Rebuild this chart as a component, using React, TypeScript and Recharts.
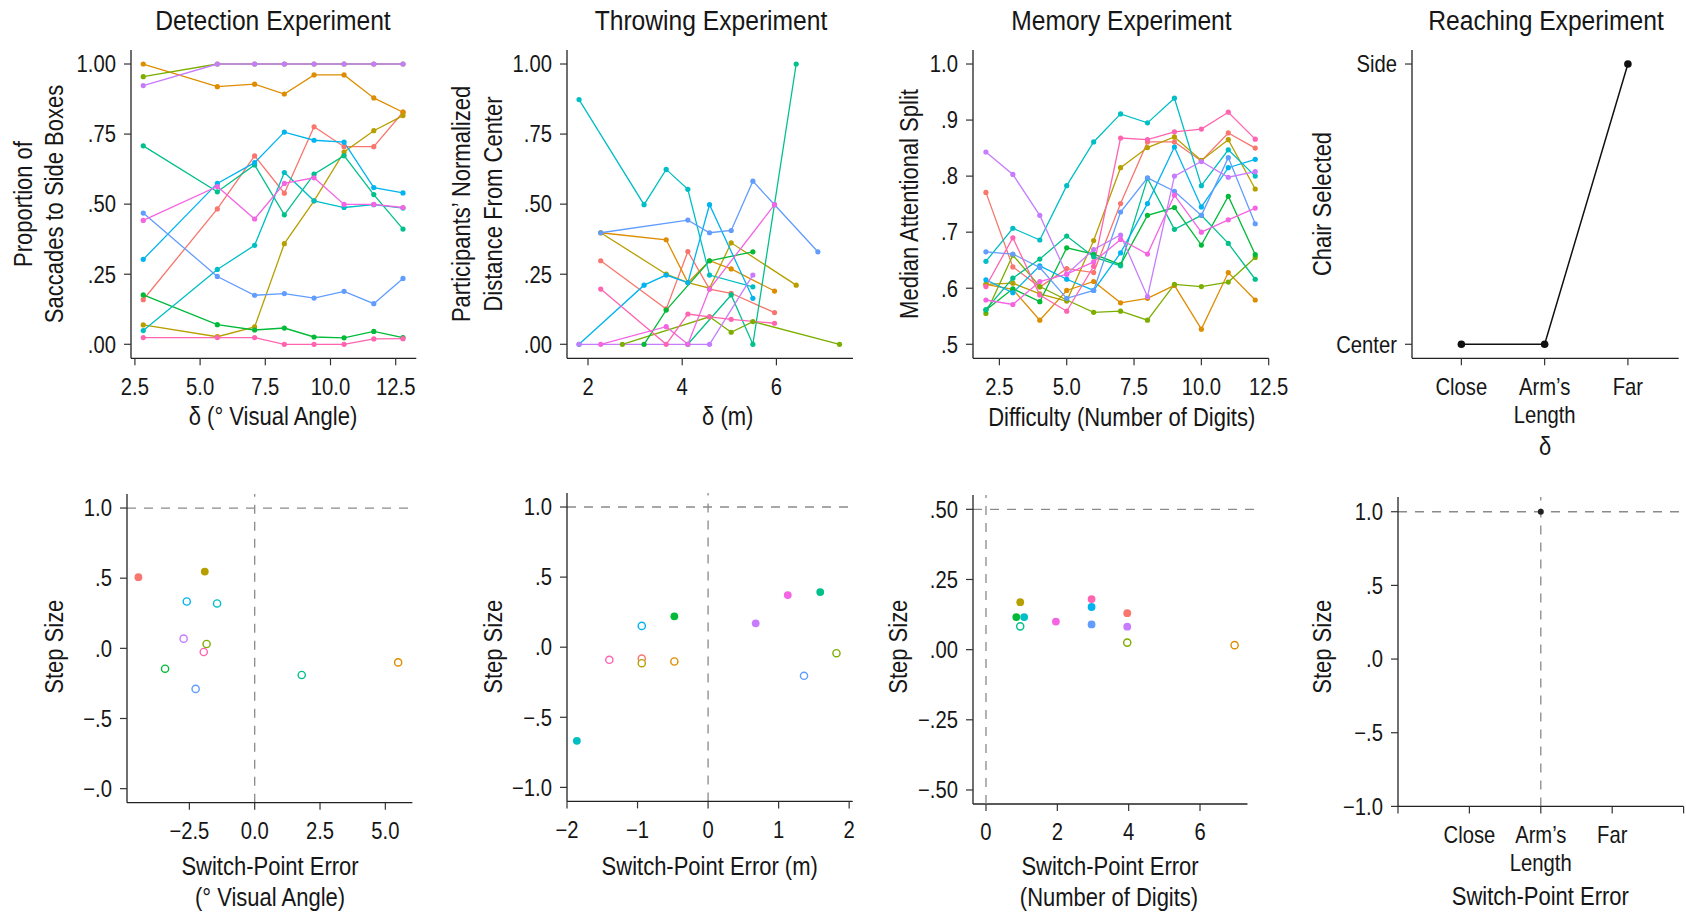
import React from 'react';
import { LineChart, Line, ScatterChart, Scatter, XAxis, YAxis, ReferenceLine } from 'recharts';

// Helvetica-like face squeezed horizontally to stand in for the condensed original
const FONT = "'Liberation Sans', Arial, sans-serif";
const SX = 0.88;
const INK = '#161616';
const DASH = '#8a8a8a';
// ggplot hue palette, one colour per participant
const PALETTE = ['#F8766D', '#DE8C00', '#B79F00', '#7CAE00', '#00BA38', '#00C08B', '#00BFC4', '#00B4F0', '#619CFF', '#C77CFF', '#F564E3', '#FF64B0'];

// ---- Detection experiment (top left) ----
const detectionAngles = [2.82, 5.66, 7.09, 8.23, 9.37, 10.52, 11.66, 12.78];
const detectionBySubject = [
  [0.159, 0.483, 0.672, 0.539, 0.776, 0.705, 0.705, 0.828],
  [1.0, 0.919, 0.928, 0.893, 0.961, 0.961, 0.879, 0.828],
  [0.069, 0.027, 0.062, 0.359, 0.512, 0.686, 0.762, 0.816],
  [0.955, 1, 1, 1, 1, 1, 1, 1],
  [0.176, 0.07, 0.051, 0.058, 0.026, 0.023, 0.046, 0.024],
  [0.708, 0.544, 0.64, 0.462, 0.607, 0.673, 0.534, 0.411],
  [0.049, 0.267, 0.353, 0.613, 0.512, 0.488, 0.498, 0.486],
  [0.303, 0.574, 0.648, 0.757, 0.728, 0.721, 0.559, 0.54],
  [0.468, 0.242, 0.175, 0.181, 0.165, 0.189, 0.145, 0.235],
  [0.923, 1, 1, 1, 1, 1, 1, 1],
  [0.442, 0.563, 0.447, 0.574, 0.594, 0.499, 0.499, 0.488],
  [0.024, 0.024, 0.024, 0, 0, 0, 0.019, 0.02],
];

// ---- Throwing experiment ----
const throwingDistances = [1.81, 2.27, 2.73, 3.19, 3.66, 4.12, 4.58, 5.04, 5.5, 5.96, 6.42, 6.88, 7.34];
const throwingBySubject: (number | null)[][] = [
  [null, 0.298, null, null, 0.126, 0.331, 0.197, 0.182, null, 0.113, null, null, null],
  [null, 0.398, null, null, 0.373, 0.22, 0.298, 0.269, null, 0.19, null, null, null],
  [null, 0.398, null, null, 0.25, 0.22, 0.2, 0.362, null, null, 0.211, null, null],
  [null, null, 0, null, null, null, 0.098, 0.043, 0.081, null, null, null, 0],
  [null, null, null, 0, 0.122, null, 0.298, null, 0.33, null, null, null, null],
  [null, null, null, null, null, 0, null, 0.176, 0, null, 1.0, null, null],
  [0.873, null, null, 0.498, 0.624, 0.553, 0.247, null, 0.205, null, null, null, null],
  [0, null, null, 0.211, 0.247, 0.22, 0.498, null, 0.164, null, null, null, null],
  [null, 0.398, null, null, null, 0.443, 0.398, 0.406, 0.582, 0.498, null, 0.33, null],
  [0, null, null, null, null, null, 0, null, 0.247, null, null, null, null],
  [null, 0, null, null, 0.063, 0, 0.197, null, null, 0.498, null, null, null],
  [null, 0.197, null, null, 0, 0.108, 0.098, 0.089, null, 0.075, null, null, null],
];

// ---- Memory experiment ----
const memoryDigits = [2, 3, 4, 5, 6, 7, 8, 9, 10, 11, 12];
const memoryBySubject = [
  [0.771, 0.638, 0.602, 0.635, 0.628, 0.751, 0.861, 0.861, 0.827, 0.877, 0.85],
  [0.607, 0.598, 0.543, 0.596, 0.612, 0.574, 0.582, 0.605, 0.527, 0.628, 0.579],
  [0.607, 0.609, 0.59, 0.577, 0.685, 0.815, 0.851, 0.87, 0.828, 0.865, 0.777],
  [0.555, 0.659, 0.603, 0.579, 0.557, 0.559, 0.543, 0.607, 0.603, 0.611, 0.655],
  [0.561, 0.599, 0.576, 0.672, 0.661, 0.642, 0.73, 0.744, 0.677, 0.764, 0.66],
  [0.562, 0.618, 0.652, 0.693, 0.656, 0.64, 0.796, 0.705, 0.73, 0.68, 0.616],
  [0.648, 0.707, 0.686, 0.783, 0.861, 0.911, 0.895, 0.939, 0.783, 0.847, 0.8],
  [0.615, 0.592, 0.64, 0.616, 0.596, 0.663, 0.751, 0.852, 0.745, 0.815, 0.83],
  [0.665, 0.661, 0.637, 0.582, 0.596, 0.736, 0.797, 0.773, 0.73, 0.833, 0.715],
  [0.843, 0.803, 0.73, 0.625, 0.669, 0.695, 0.585, 0.8, 0.826, 0.798, 0.808],
  [0.579, 0.571, 0.612, 0.625, 0.647, 0.687, 0.661, 0.766, 0.7, 0.722, 0.743],
  [0.603, 0.69, 0.588, 0.559, 0.639, 0.868, 0.865, 0.879, 0.884, 0.914, 0.866],
];

// ---- Reaching experiment ----
const reachingDistance = [1, 2, 3];
const reachingChoice = [0, 0, 1];
const reachingCategories = ['Close', 'Arm\u2019s\nLength', 'Far'];

// ---- Step size vs switch-point error ----
const detectionError = [-4.45, -1.91, -2.6, -1.44, -2.72, -1.84, -1.95, -3.43, -2.26, 1.8, 5.49];
const detectionStep = [0.507, 0.547, 0.334, 0.32, 0.069, 0.031, -0.026, -0.145, -0.289, -0.19, -0.1];
const detectionSubject = [0, 2, 7, 6, 9, 3, 11, 4, 8, 5, 1];
const detectionSignificant = [true, true, false, false, false, false, false, false, false, false, false];

const throwingError = [-1.86, -1.4, -0.94, -0.94, -0.94, -0.478, -0.478, 0.675, 1.13, 1.59, 1.36, 1.82];
const throwingStep = [-0.668, -0.09, -0.081, -0.114, 0.152, -0.102, 0.22, 0.17, 0.372, 0.393, -0.204, -0.043];
const throwingSubject = [6, 11, 0, 2, 7, 1, 4, 9, 10, 5, 8, 3];
const throwingSignificant = [true, false, false, false, false, false, true, true, true, true, false, false];

const memoryError = [0.96, 0.85, 1.07, 0.96, 1.96, 2.96, 2.96, 2.96, 3.96, 3.96, 3.96, 6.97];
const memoryStep = [0.169, 0.116, 0.116, 0.083, 0.1, 0.18, 0.152, 0.09, 0.13, 0.082, 0.025, 0.016];
const memorySubject = [2, 4, 6, 5, 10, 11, 7, 8, 0, 9, 3, 1];
const memorySignificant = [true, true, true, false, true, true, true, true, true, true, false, false];

const reachingError = [2];
const reachingStep = [1];
const reachingErrorCategories = ['', 'Close', 'Arm\u2019s\nLength', 'Far', ''];

type Box = { x0: number; x1: number; y0: number; y1: number };
const YW = 100;
const XH = 74;
const MT = 6;
const MR = 24;
const TICK_FS = 23;
const LABEL_FS = 25;

const axisLine = { stroke: '#222', strokeWidth: 1.3 };
const tickLine = { stroke: '#333', strokeWidth: 1.2 };

function frame(b: Box): React.CSSProperties {
  return { position: 'absolute', left: b.x0 - YW, top: b.y0 - MT };
}
function size(b: Box) {
  return { width: b.x1 - b.x0 + YW + MR, height: b.y1 - b.y0 + MT + XH };
}
const labelOf = (ticks: number[], labels: string[]) => (v: number) => labels[ticks.indexOf(v)] ?? '';

function XTick(props: any) {
  const { x, y, payload, ticks, labels } = props;
  const text: string = labels[ticks.indexOf(payload.value)] ?? '';
  return (
    <text transform={`translate(${x},${y}) scale(${SX},1)`} textAnchor="middle" fill={INK} fontSize={TICK_FS} fontFamily={FONT}>
      {text.split('\n').map((l, i) => (
        <tspan key={i} x={0} dy={i === 0 ? '0.71em' : '1.23em'}>{l}</tspan>
      ))}
    </text>
  );
}

function YTick(props: any) {
  const { x, y, payload, ticks, labels } = props;
  const text: string = labels[ticks.indexOf(payload.value)] ?? '';
  return (
    <text transform={`translate(${x},${y}) scale(${SX},1)`} textAnchor="end" dy="0.36em" fill={INK} fontSize={TICK_FS} fontFamily={FONT}>
      {text}
    </text>
  );
}

interface AxisSpec {
  domain: [number, number];
  ticks: number[];
  labels: string[];
}

function xAxisEl(a: AxisSpec, showLine = true) {
  return (
    <XAxis
      type="number"
      dataKey="x"
      domain={a.domain}
      ticks={a.ticks}
      allowDataOverflow
      interval={0}
      height={XH}
      axisLine={showLine ? axisLine : false}
      tickLine={tickLine}
      tickSize={7}
      tickMargin={13}
      tick={(p: any) => <XTick {...p} ticks={a.ticks} labels={a.labels} />}
      tickFormatter={labelOf(a.ticks, a.labels)}
    />
  );
}
function yAxisEl(a: AxisSpec) {
  return (
    <YAxis
      type="number"
      dataKey="y"
      domain={a.domain}
      ticks={a.ticks}
      allowDataOverflow
      interval={0}
      width={YW}
      axisLine={axisLine}
      tickLine={tickLine}
      tickSize={7}
      tickMargin={8}
      tick={(p: any) => <YTick {...p} ticks={a.ticks} labels={a.labels} />}
      tickFormatter={labelOf(a.ticks, a.labels)}
    />
  );
}

function LinePanel(props: { box: Box; xa: AxisSpec; ya: AxisSpec; xs: number[]; rows: (number | null)[][]; black?: boolean }) {
  const { box, xa, ya, xs, rows } = props;
  return (
    <div style={frame(box)}>
      <LineChart {...size(box)} margin={{ top: MT, right: MR, left: 0, bottom: 0 }}>
        {xAxisEl(xa)}
        {yAxisEl(ya)}
        {rows.map((row, i) => {
          const c = props.black ? '#111' : PALETTE[i];
          const data = xs.map((x, j) => ({ x, y: row[j] })).filter((d) => d.y !== null);
          return (
            <Line
              key={i}
              data={data}
              dataKey="y"
              stroke={c}
              strokeWidth={props.black ? 1.5 : 1.3}
              dot={{ r: props.black ? 3.8 : 2.6, fill: c, stroke: 'none' }}
              activeDot={false}
              isAnimationActive={false}
            />
          );
        })}
      </LineChart>
    </div>
  );
}

function ScatterDot(props: any) {
  const { cx, cy, payload } = props;
  if (payload.filled) return <circle cx={cx} cy={cy} r={payload.r} fill={payload.color} />;
  return <circle cx={cx} cy={cy} r={3.6} fill="#fff" stroke={payload.color} strokeWidth={1.4} />;
}

function ScatterPanel(props: {
  box: Box; xa: AxisSpec; ya: AxisSpec; xs: number[]; ys: number[]; subj: number[]; filled: boolean[];
  hLine: number; vLine: number; axisEnd?: number; black?: boolean;
}) {
  const { box, xa, ya } = props;
  const pts = props.xs.map((x, i) => ({
    x, y: props.ys[i],
    color: props.black ? '#222' : PALETTE[props.subj[i]],
    filled: props.filled[i],
    r: props.black ? 3 : 3.9,
  }));
  const yMin = ya.domain[0];
  return (
    <div style={frame(box)}>
      <ScatterChart {...size(box)} margin={{ top: MT, right: MR, left: 0, bottom: 0 }}>
        {xAxisEl(xa, props.axisEnd === undefined)}
        {yAxisEl(ya)}
        {props.axisEnd !== undefined && (
          <ReferenceLine
            segment={[{ x: xa.domain[0], y: yMin }, { x: props.axisEnd, y: yMin }]}
            stroke="#222" strokeWidth={1.3} ifOverflow="visible"
          />
        )}
        <ReferenceLine y={props.hLine} stroke={DASH} strokeWidth={1.3} strokeDasharray="9 8" />
        <ReferenceLine x={props.vLine} stroke={DASH} strokeWidth={1.3} strokeDasharray="9 8" />
        <Scatter data={pts} shape={ScatterDot} isAnimationActive={false} />
      </ScatterChart>
    </div>
  );
}

const PROP_Y: AxisSpec = { domain: [-0.05, 1.05], ticks: [0, 0.25, 0.5, 0.75, 1], labels: ['.00', '.25', '.50', '.75', '1.00'] };
const STEP_Y: AxisSpec = { domain: [-1.1, 1.1], ticks: [-1, -0.5, 0, 0.5, 1], labels: ['\u22121.0', '\u2212.5', '.0', '.5', '1.0'] };

const texts: { t: string; x: number; y: number; s: number; rot?: boolean }[] = [
  { t: 'Detection Experiment', x: 273, y: 20, s: 28 },
  { t: 'Throwing Experiment', x: 711, y: 20, s: 28 },
  { t: 'Memory Experiment', x: 1121.5, y: 20, s: 28 },
  { t: 'Reaching Experiment', x: 1546, y: 20, s: 28 },
  { t: '\u03b4 (\u00b0 Visual Angle)', x: 273, y: 417, s: LABEL_FS },
  { t: '\u03b4 (m)', x: 727.7, y: 417, s: LABEL_FS },
  { t: 'Difficulty (Number of Digits)', x: 1121.7, y: 418, s: LABEL_FS },
  { t: '\u03b4', x: 1545, y: 447, s: LABEL_FS },
  { t: 'Proportion of', x: 23.3, y: 204, s: LABEL_FS, rot: true },
  { t: 'Saccades to Side Boxes', x: 55, y: 204, s: LABEL_FS, rot: true },
  { t: 'Participants\u2019 Normalized', x: 461.7, y: 204, s: LABEL_FS, rot: true },
  { t: 'Distance From Center', x: 493.3, y: 204, s: LABEL_FS, rot: true },
  { t: 'Median Attentional Split', x: 910, y: 204, s: LABEL_FS, rot: true },
  { t: 'Chair Selected', x: 1322.7, y: 204, s: LABEL_FS, rot: true },
  { t: 'Step Size', x: 55, y: 646.7, s: LABEL_FS, rot: true },
  { t: 'Step Size', x: 493.3, y: 646.7, s: LABEL_FS, rot: true },
  { t: 'Step Size', x: 898.3, y: 646.7, s: LABEL_FS, rot: true },
  { t: 'Step Size', x: 1322.7, y: 646.7, s: LABEL_FS, rot: true },
  { t: 'Switch-Point Error', x: 270, y: 866.7, s: LABEL_FS },
  { t: '(\u00b0 Visual Angle)', x: 270, y: 898, s: LABEL_FS },
  { t: 'Switch-Point Error (m)', x: 709.7, y: 866.7, s: LABEL_FS },
  { t: 'Switch-Point Error', x: 1110, y: 866.7, s: LABEL_FS },
  { t: '(Number of Digits)', x: 1109, y: 898, s: LABEL_FS },
  { t: 'Switch-Point Error', x: 1540.3, y: 896.7, s: LABEL_FS },
];

export default function App() {
  return (
    <div style={{ position: 'absolute', left: 0, top: 0, width: 1686, height: 914, overflow: 'hidden', background: '#fff' }}>
      <LinePanel
        box={{ x0: 130.7, x1: 416, y0: 50, y1: 358.3 }}
        xa={{ domain: [2.35, 13.29], ticks: [2.5, 5, 7.5, 10, 12.5], labels: ['2.5', '5.0', '7.5', '10.0', '12.5'] }}
        ya={PROP_Y}
        xs={detectionAngles}
        rows={detectionBySubject}
      />
      <LinePanel
        box={{ x0: 567.3, x1: 853.3, y0: 50, y1: 358.3 }}
        xa={{ domain: [1.554, 7.626], ticks: [2, 4, 6], labels: ['2', '4', '6'] }}
        ya={PROP_Y}
        xs={throwingDistances}
        rows={throwingBySubject}
      />
      <LinePanel
        box={{ x0: 973.3, x1: 1269, y0: 50, y1: 358.3 }}
        xa={{ domain: [1.52, 12.5], ticks: [2.5, 5, 7.5, 10, 12.5], labels: ['2.5', '5.0', '7.5', '10.0', '12.5'] }}
        ya={{ domain: [0.475, 1.025], ticks: [0.5, 0.6, 0.7, 0.8, 0.9, 1], labels: ['.5', '.6', '.7', '.8', '.9', '1.0'] }}
        xs={memoryDigits}
        rows={memoryBySubject}
      />
      <LinePanel
        box={{ x0: 1412.3, x1: 1679, y0: 50, y1: 358.3 }}
        xa={{ domain: [0.407, 3.61], ticks: [1, 2, 3], labels: reachingCategories }}
        ya={{ domain: [-0.05, 1.05], ticks: [0, 1], labels: ['Center', 'Side'] }}
        xs={reachingDistance}
        rows={[reachingChoice]}
        black
      />
      <ScatterPanel
        box={{ x0: 127.3, x1: 412.7, y0: 494, y1: 802.7 }}
        xa={{ domain: [-4.887, 6.035], ticks: [-2.5, 0, 2.5, 5], labels: ['\u22122.5', '0.0', '2.5', '5.0'] }}
        ya={{ ...STEP_Y, labels: ['\u2212.0', '\u2212.5', '.0', '.5', '1.0'] }}
        xs={detectionError} ys={detectionStep} subj={detectionSubject} filled={detectionSignificant}
        hLine={1} vLine={0}
      />
      <ScatterPanel
        box={{ x0: 567, x1: 852.7, y0: 493.3, y1: 801.7 }}
        xa={{ domain: [-2.0, 2.05], ticks: [-2, -1, 0, 1, 2], labels: ['\u22122', '\u22121', '0', '1', '2'] }}
        ya={STEP_Y}
        xs={throwingError} ys={throwingStep} subj={throwingSubject} filled={throwingSignificant}
        hLine={1} vLine={0}
      />
      <ScatterPanel
        box={{ x0: 972.7, x1: 1260, y0: 495, y1: 804 }}
        xa={{ domain: [-0.364, 7.69], ticks: [0, 2, 4, 6], labels: ['0', '2', '4', '6'] }}
        ya={{ domain: [-0.55, 0.551], ticks: [-0.5, -0.25, 0, 0.25, 0.5], labels: ['\u2212.50', '\u2212.25', '.00', '.25', '.50'] }}
        xs={memoryError} ys={memoryStep} subj={memorySubject} filled={memorySignificant}
        hLine={0.5} vLine={0} axisEnd={7.33}
      />
      <ScatterPanel
        box={{ x0: 1397.7, x1: 1683.3, y0: 497.3, y1: 806.7 }}
        xa={{ domain: [0, 4], ticks: [0, 1, 2, 3, 4], labels: reachingErrorCategories }}
        ya={{ domain: [-1.0, 1.1], ticks: [-1, -0.5, 0, 0.5, 1], labels: ['\u22121.0', '\u2212.5', '.0', '.5', '1.0'] }}
        xs={reachingError} ys={reachingStep} subj={[0]} filled={[true]}
        hLine={1} vLine={2} black
      />
      <svg width={1686} height={914} style={{ position: 'absolute', left: 0, top: 0, pointerEvents: 'none' }}>
        {texts.map((d, i) => (
          <text
            key={i}
            transform={`translate(${d.x},${d.y})${d.rot ? ' rotate(-90)' : ''} scale(${SX},1)`}
            textAnchor="middle"
            dominantBaseline="central"
            fill={INK}
            fontSize={d.s}
            fontFamily={FONT}
          >
            {d.t}
          </text>
        ))}
      </svg>
    </div>
  );
}
